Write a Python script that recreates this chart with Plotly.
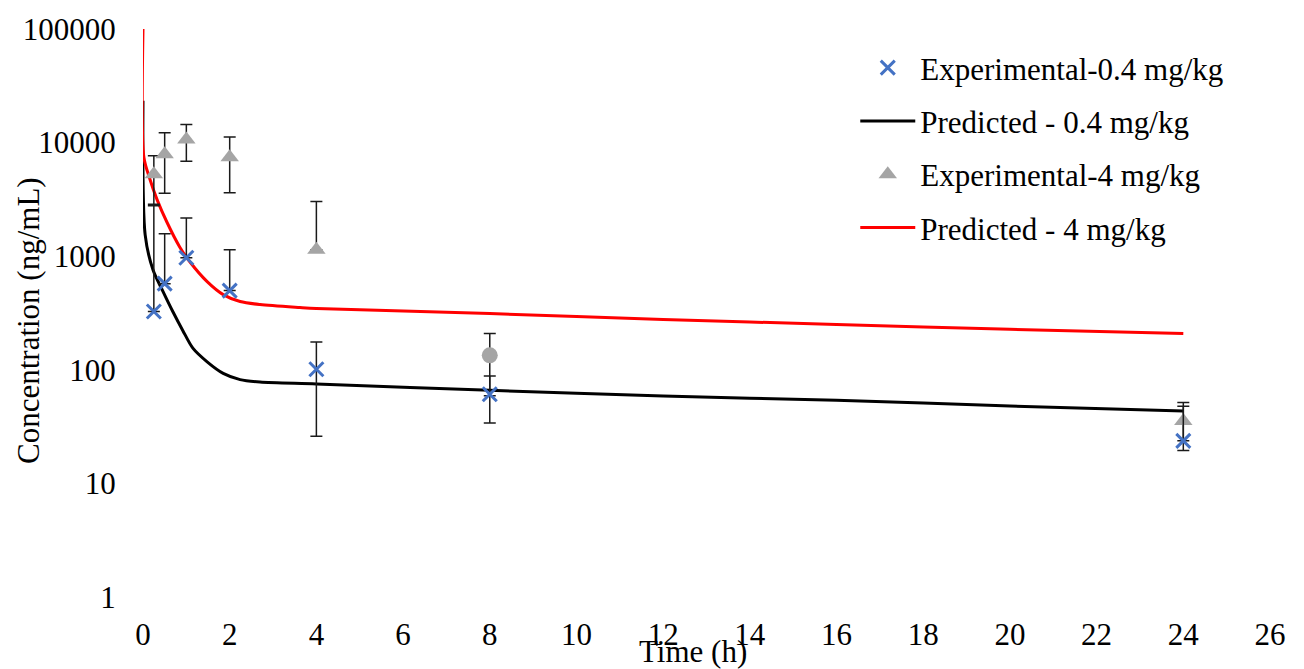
import plotly.graph_objects as go

# ---- data ----
exp_times = [0.25, 0.5, 1, 2, 4, 8, 24]
exp_low_conc = [326, 573, 968, 498, 101, 61, 23.7]
exp_low_err = [2450, 1000, 1200, 640, 75, 27, 24]
exp_high_conc = [5270, 7890, 10660, 7420, 1138, 134, 35.5]
exp_high_err = [2400, 4300, 3800, 3800, 1900, 75, 16]
exp_high_symbols = ["triangle-up", "triangle-up", "triangle-up", "triangle-up",
                    "triangle-up", "circle", "triangle-up"]

pred_low_t = [0, 0.05, 0.23, 0.46, 0.69, 0.92, 1.15, 1.48, 1.85, 2.24, 2.7, 4, 8, 12, 16, 20, 24]
pred_low_c = [23400, 1540, 759, 490, 324, 221, 155, 117.5, 93, 82, 78, 75, 66, 58.7, 54, 48, 43.4]
pred_high_t = [0, 0.02, 0.16, 0.32, 0.55, 0.85, 1.08, 1.48, 1.85, 2.24, 2.7, 3.62, 4, 8, 12, 16, 20, 24]
pred_high_c = [100000, 7420, 4760, 3180, 2000, 1200, 893, 597, 459, 399, 375, 353, 346, 313, 277, 251, 227, 209]

x_ticks = list(range(0, 27, 2))
y_ticks = [1, 10, 100, 1000, 10000, 100000]

FONT = "Times New Roman, Liberation Serif, DejaVu Serif, serif"
FS = 31


def lower(vals, errs):
    # Excel omits the lower bar when it would fall below zero on a log axis
    return [e if e < v else 0 for v, e in zip(vals, errs)]


fig = go.Figure()

fig.add_trace(go.Scatter(
    x=exp_times, y=exp_low_conc, mode="markers", name="Experimental-0.4 mg/kg",
    legendgroup="a", zorder=4,
    marker=dict(symbol="x-thin", size=14, color="#4472C4",
                line=dict(color="#4472C4", width=3)),
    error_y=dict(type="data", array=exp_low_err, arrayminus=lower(exp_low_conc, exp_low_err),
                 symmetric=False, color="#1a1a1a", thickness=1.5, width=6),
))
fig.add_trace(go.Scatter(
    x=pred_low_t, y=pred_low_c, mode="lines", name="Predicted - 0.4 mg/kg",
    legendgroup="b", zorder=1,
    line=dict(color="black", width=3, shape="spline", smoothing=0.8),
))
fig.add_trace(go.Scatter(
    x=exp_times, y=exp_high_conc, mode="markers", name="Experimental-4 mg/kg",
    legendgroup="c", zorder=3,
    marker=dict(symbol=exp_high_symbols, size=16, color="#A5A5A5"),
    error_y=dict(type="data", array=exp_high_err, arrayminus=lower(exp_high_conc, exp_high_err),
                 symmetric=False, color="#1a1a1a", thickness=1.5, width=6),
))
fig.add_trace(go.Scatter(
    x=pred_high_t, y=pred_high_c, mode="lines", name="Predicted - 4 mg/kg",
    legendgroup="d", zorder=2,
    line=dict(color="#FF0000", width=3, shape="spline", smoothing=0.8),
))

fig.update_layout(
    width=1304, height=669,
    margin=dict(l=143, r=34, t=26, b=72),
    paper_bgcolor="white", plot_bgcolor="white",
    font=dict(family=FONT, size=FS, color="black"),
    showlegend=True,
    legend=dict(x=0.632, y=0.979, xanchor="left", yanchor="top",
                traceorder="grouped", tracegroupgap=10,
                font=dict(family=FONT, size=FS), itemwidth=55,
                bgcolor="rgba(0,0,0,0)"),
    xaxis=dict(range=[0, 26], tickvals=x_ticks, ticktext=[str(v) for v in x_ticks],
               showgrid=False, zeroline=False, showline=True, linecolor="#BFBFBF",
               linewidth=2, ticks="", ticklabelstandoff=9),
    yaxis=dict(type="log", range=[0, 5], tickvals=y_ticks, ticktext=[str(v) for v in y_ticks],
               showgrid=False, zeroline=False, showline=True, linecolor="#BFBFBF",
               linewidth=2, ticks="", ticklabelstandoff=19),
    annotations=[
        dict(text="Time (h)", xref="paper", yref="paper", x=0.488, y=0,
             xanchor="center", yanchor="middle", yshift=-54, showarrow=False,
             font=dict(family=FONT, size=FS)),
        dict(text="Concentration (ng/mL)", xref="paper", yref="paper", x=0, y=0.5,
             xanchor="center", yanchor="middle", xshift=-115, yshift=-8, textangle=-90,
             showarrow=False, font=dict(family=FONT, size=FS)),
    ],
)

fig.write_html("out.html")
